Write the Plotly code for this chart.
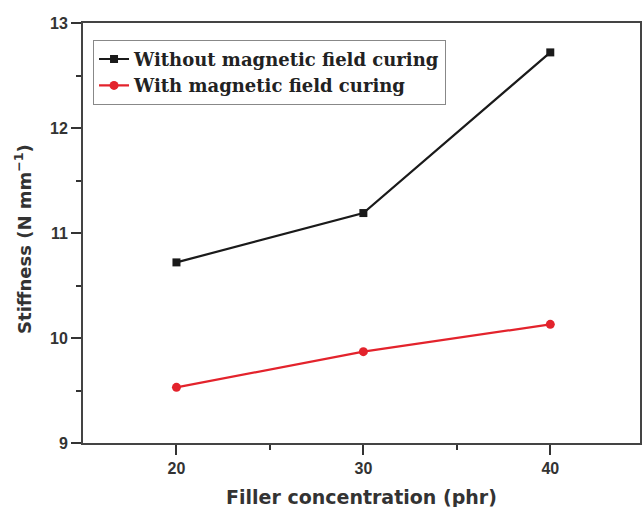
import plotly.graph_objects as go

filler = [20, 30, 40]
without_field = [10.72, 11.19, 12.72]
with_field = [9.53, 9.87, 10.13]
series_names = ["Without magnetic field curing", "With magnetic field curing"]
x_title = "Filler concentration (phr)"
y_title = "Stiffness (N mm<sup>−1</sup>)"

fig = go.Figure()
fig.add_trace(go.Scatter(x=filler, y=without_field, mode="lines+markers", name=series_names[0],
                         line=dict(color="#1a1a1a", width=2.2),
                         marker=dict(symbol="square", size=8, color="#1a1a1a")))
fig.add_trace(go.Scatter(x=filler, y=with_field, mode="lines+markers", name=series_names[1],
                         line=dict(color="#e3232c", width=2.2),
                         marker=dict(symbol="circle", size=9, color="#e3232c")))

tick_font = dict(family="Liberation Sans, Arial", size=16, color="#333", weight="bold")
fig.update_layout(
    width=643, height=507,
    margin=dict(l=83, r=3, t=23, b=64),
    plot_bgcolor="white", paper_bgcolor="white",
    showlegend=True,
    legend=dict(x=0.018, y=0.96, xanchor="left", yanchor="top",
                bgcolor="white", bordercolor="#888", borderwidth=1,
                font=dict(family="DejaVu Serif", size=18, color="#222", weight="bold"),
                tracegroupgap=0),
    xaxis=dict(range=[15, 44.8], tickvals=[20, 30, 40], ticks="outside", ticklen=10, tickwidth=2,
               tickcolor="#333", showline=True, linecolor="#444", linewidth=2, mirror=True,
               showgrid=False, zeroline=False, automargin=False, tickfont=tick_font,
               minor=dict(tickvals=[25, 35], ticks="outside", ticklen=5, tickwidth=2, tickcolor="#333")),
    yaxis=dict(range=[9, 13], tickvals=[9, 10, 11, 12, 13], ticks="outside", ticklen=10, tickwidth=2,
               tickcolor="#333", showline=True, linecolor="#444", linewidth=2, mirror=True,
               showgrid=False, zeroline=False, automargin=False, tickfont=tick_font,
               minor=dict(tickvals=[9.5, 10.5, 11.5, 12.5], ticks="outside", ticklen=5, tickwidth=2, tickcolor="#333")),
    annotations=[
        dict(text=x_title, xref="paper", yref="paper", x=0.5, y=0, yshift=-54,
             xanchor="center", yanchor="middle", showarrow=False,
             font=dict(family="DejaVu Sans", size=19, color="#333", weight="bold")),
        dict(text=y_title, xref="paper", yref="paper", x=0, xshift=-60, y=0.486,
             xanchor="center", yanchor="middle", textangle=-90, showarrow=False,
             font=dict(family="DejaVu Sans", size=18, color="#333", weight="bold")),
    ],
)
fig.for_each_trace(lambda t: t.update(name="<b>" + t.name + "</b>"))
fig.write_html("out.html", config={"displayModeBar": False},
               post_script="document.body.style.margin='0';document.body.style.overflow='hidden';")
